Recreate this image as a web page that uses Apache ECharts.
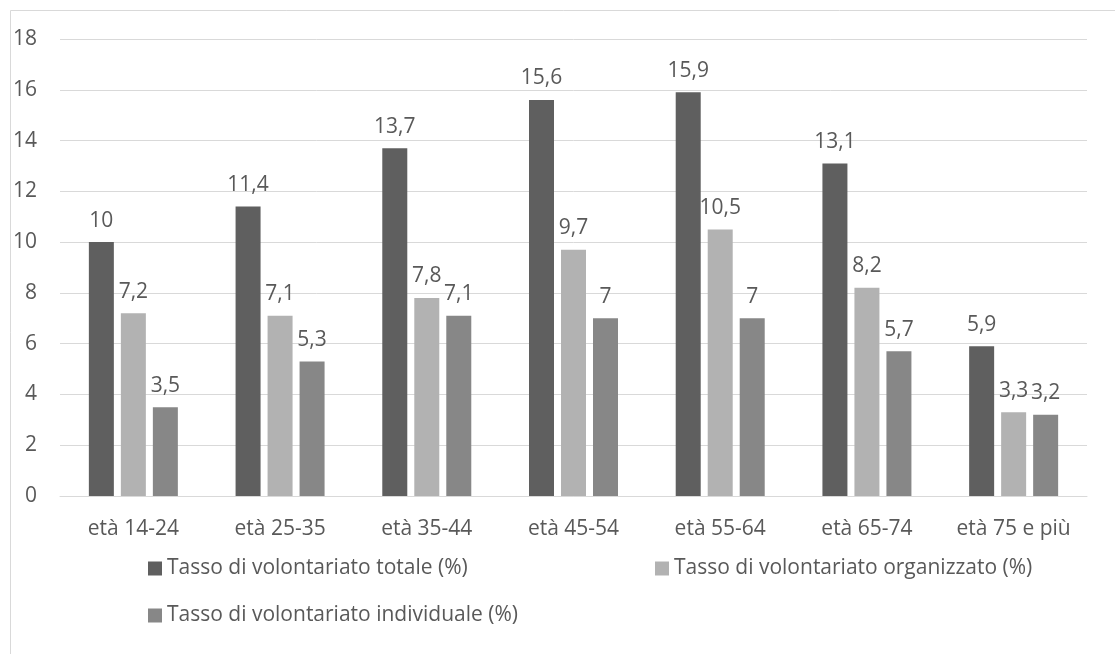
<!DOCTYPE html>
<html>
<head>
<meta charset="utf-8">
<script src="https://cdn.jsdelivr.net/npm/echarts@6/dist/echarts.min.js"></script>
<style>
  html, body { margin: 0; padding: 0; background: #ffffff; }
  #chart { width: 1115px; height: 654px; }
</style>
</head>
<body>
<div id="chart"></div>
<script>
// Fasce d'età e tassi di volontariato (%)
const categories = ['età 14-24', 'età 25-35', 'età 35-44', 'età 45-54', 'età 55-64', 'età 65-74', 'età 75 e più'];
const seriesNames = [
  'Tasso di volontariato totale (%)',
  'Tasso di volontariato organizzato (%)',
  'Tasso di volontariato individuale (%)'
];
const totale = [10, 11.4, 13.7, 15.6, 15.9, 13.1, 5.9];
const organizzato = [7.2, 7.1, 7.8, 9.7, 10.5, 8.2, 3.3];
const individuale = [3.5, 5.3, 7.1, 7, 7, 5.7, 3.2];
const yTicks = [0, 2, 4, 6, 8, 10, 12, 14, 16, 18];

const colors = ['#5f5f5f', '#b2b2b2', '#878787'];
const textColor = '#595959';
const font = '"Open Sans", "DejaVu Sans", sans-serif';
const fs = 21;

const chart = echarts.init(document.getElementById('chart'), null, { renderer: 'canvas' });

function bar(name, data, color) {
  return {
    name: name,
    type: 'bar',
    data: data,
    barWidth: 25,
    barGap: '28%',
    itemStyle: { color: color },
    label: {
      show: true,
      position: 'top',
      distance: 11,
      color: textColor,
      fontFamily: font,
      fontSize: fs,
      formatter: p => String(p.value).replace('.', ',')
    }
  };
}

function legend(idx, left, top) {
  return {
    data: [seriesNames[idx]],
    left: left,
    top: top,
    itemWidth: 14,
    itemHeight: 14,
    itemGap: 0,
    icon: 'rect',
    selectedMode: false,
    textStyle: { color: textColor, fontFamily: font, fontSize: fs }
  };
}

chart.setOption({
  animation: false,
  backgroundColor: '#ffffff',
  color: colors,
  graphic: [{
    type: 'rect',
    shape: { x: 10.5, y: 10.5, width: 1110, height: 660 },
    style: { fill: 'none', stroke: '#d9d9d9', lineWidth: 1 },
    silent: true
  }],
  legend: [
    legend(0, 143, 553),
    legend(1, 650, 553),
    legend(2, 143, 600)
  ],
  grid: { left: 60, right: 28, top: 39, bottom: 158, containLabel: false },
  xAxis: {
    type: 'category',
    data: categories,
    axisLine: { lineStyle: { color: '#d9d9d9', width: 1 } },
    axisTick: { show: false },
    axisLabel: { interval: 0, color: textColor, fontFamily: font, fontSize: fs, margin: 23 }
  },
  yAxis: {
    type: 'value',
    min: yTicks[0],
    max: yTicks[yTicks.length - 1],
    interval: 2,
    axisLine: { show: false },
    axisTick: { show: false },
    splitLine: { lineStyle: { color: '#d9d9d9', width: 1 } },
    axisLabel: { color: textColor, fontFamily: font, fontSize: fs, margin: 23 }
  },
  series: [
    bar(seriesNames[0], totale, colors[0]),
    bar(seriesNames[1], organizzato, colors[1]),
    bar(seriesNames[2], individuale, colors[2])
  ]
});
</script>
</body>
</html>
